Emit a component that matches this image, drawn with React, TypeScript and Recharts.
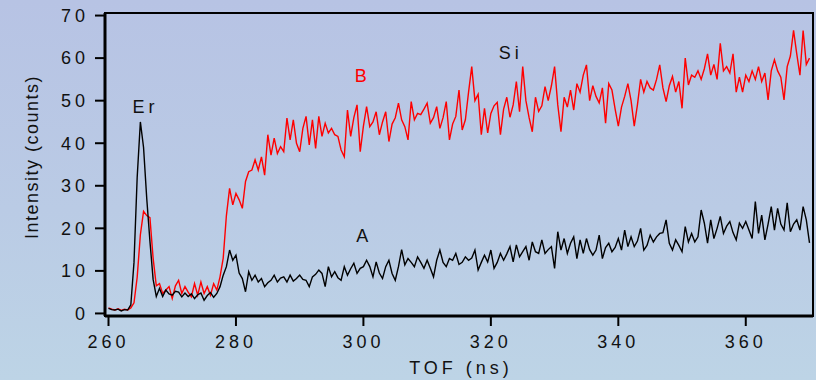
import React from 'react';
import {
  LineChart,
  Line,
  XAxis,
  YAxis,
  Label,
  ReferenceArea,
  ReferenceDot,
} from 'recharts';

// TOF spectra, one reading every 0.5 ns from 260 ns to 370 ns
const T0 = 260;
const STEP = 0.5;

// A (black): counts per 0.5 ns, one row = 10 ns
const seriesA = [
  1.2, 0.9, 0.8, 1.0, 0.6, 0.9, 0.8, 2.0, 12.0, 32.0, 45.0, 39.0, 27.0, 17.0, 8.0, 4.0, 5.9, 4.0, 5.5, 4.6,
  4.3, 5.2, 5.0, 3.9, 4.8, 4.0, 4.6, 3.5, 4.4, 4.8, 3.1, 4.2, 4.9, 3.8, 4.7, 6.3, 9.0, 11.0, 14.9, 12.5,
  13.7, 9.5, 8.2, 5.1, 9.8, 7.8, 9.0, 7.4, 8.2, 6.3, 7.2, 7.8, 9.0, 7.4, 8.3, 8.6, 7.4, 9.0, 7.6, 8.2,
  9.0, 8.0, 7.8, 6.3, 8.6, 9.2, 10.2, 9.4, 6.3, 11.0, 8.6, 9.8, 8.4, 7.8, 11.0, 9.0, 10.5, 11.8, 9.4, 10.6,
  11.0, 12.5, 11.0, 8.6, 12.1, 9.5, 8.2, 11.0, 12.5, 9.4, 7.8, 11.0, 15.0, 11.4, 12.9, 12.0, 11.0, 13.3, 12.0, 10.6,
  12.5, 10.6, 8.6, 12.5, 14.9, 12.0, 11.0, 12.9, 12.5, 14.1, 11.5, 12.0, 13.3, 12.5, 13.0, 14.9, 10.2, 12.0, 13.7, 12.1,
  14.9, 10.6, 12.0, 14.1, 12.5, 14.0, 15.7, 12.1, 16.1, 13.3, 14.5, 15.7, 12.5, 16.8, 14.5, 14.1, 17.3, 14.1, 15.0, 15.7,
  10.6, 19.2, 14.9, 17.6, 14.1, 16.5, 18.0, 12.9, 17.3, 14.1, 17.6, 15.0, 13.7, 14.9, 18.4, 12.9, 15.5, 16.5, 14.5, 15.5,
  17.6, 14.9, 19.6, 15.7, 18.0, 15.7, 17.0, 20.0, 14.9, 16.0, 18.4, 16.8, 18.0, 18.8, 19.0, 22.0, 16.5, 14.9, 17.3, 16.0,
  14.5, 20.4, 16.8, 18.8, 16.8, 18.0, 24.3, 21.2, 16.5, 22.0, 17.6, 20.0, 22.8, 18.8, 20.5, 21.6, 19.0, 17.3, 21.2, 20.0,
  21.6, 19.6, 17.6, 26.3, 18.8, 23.1, 17.3, 21.0, 25.1, 19.6, 24.7, 21.0, 19.6, 26.0, 19.2, 21.0, 22.0, 19.6, 25.1, 22.0,
  16.6,
];

// B (red)
const seriesB = [
  1.3, 1.0, 0.8, 1.1, 0.7, 1.0, 0.8, 1.3, 2.5, 8.5, 18.5, 24.0, 23.0, 22.5, 13.0, 6.5, 7.0, 4.7, 5.5, 6.3,
  3.5, 6.5, 7.8, 4.7, 6.3, 5.0, 3.9, 7.0, 4.3, 7.4, 4.7, 6.3, 4.3, 7.0, 5.5, 8.6, 13.0, 23.0, 29.4, 25.5,
  28.2, 26.7, 24.7, 31.0, 33.3, 33.7, 36.1, 33.7, 36.8, 32.5, 42.0, 37.2, 41.2, 37.6, 39.2, 38.0, 45.9, 40.8, 45.5, 40.0,
  38.0, 43.5, 46.3, 39.6, 45.5, 38.8, 46.3, 41.6, 44.7, 42.4, 43.5, 42.0, 41.6, 38.4, 36.8, 47.8, 41.6, 46.0, 49.0, 38.0,
  44.0, 48.6, 43.9, 45.0, 47.4, 42.0, 45.0, 47.4, 40.4, 44.5, 46.0, 49.4, 45.5, 43.9, 40.8, 49.8, 45.5, 47.0, 46.7, 48.0,
  49.4, 44.7, 46.0, 48.6, 43.5, 46.0, 49.8, 40.8, 44.5, 46.3, 52.5, 43.1, 45.5, 52.0, 58.0, 50.0, 51.5, 42.0, 48.2, 42.4,
  47.0, 48.8, 49.6, 42.0, 48.0, 50.8, 46.1, 49.0, 54.5, 47.4, 58.0, 50.0, 46.0, 42.7, 50.8, 47.5, 48.8, 53.3, 50.0, 53.5,
  58.0, 49.0, 42.7, 50.8, 48.5, 52.5, 47.8, 54.0, 52.0, 56.0, 58.4, 50.0, 53.5, 51.0, 49.5, 53.0, 44.7, 54.0, 52.5, 48.0,
  44.0, 48.5, 51.0, 54.0, 50.0, 44.0, 49.0, 55.0, 52.0, 54.5, 53.0, 52.5, 55.0, 58.4, 53.0, 49.8, 53.5, 55.7, 52.0, 54.5,
  48.2, 60.0, 53.7, 56.0, 55.5, 57.0, 55.0, 57.5, 61.0, 56.0, 58.5, 55.0, 63.5, 57.0, 58.0, 56.5, 61.0, 52.0, 55.5, 52.0,
  56.0, 54.5, 57.0, 55.0, 58.0, 54.5, 56.5, 50.2, 57.0, 59.6, 57.0, 55.5, 50.2, 58.0, 60.5, 66.5, 61.0, 56.0, 66.5, 58.5,
  60.0,
];

const xTicks = [260, 280, 300, 320, 340, 360];
const yTicks = [0, 10, 20, 30, 40, 50, 60, 70];

// peak / curve labels: [t, counts, text, colour]
const notes: [number, number, string, string][] = [
  [265.5, 47.2, 'Er', '#111'],
  [299.6, 54.5, 'B', '#ff0000'],
  [322.8, 59.8, 'Si', '#111'],
  [299.8, 16.8, 'A', '#111'],
];

const XMIN = 259.45;
const XMAX = 370.55;
const YMIN = -0.6;
const YMAX = 70.6;

const FONT = '"Liberation Sans", Arial, sans-serif';

const data = seriesA.map((a, i) => ({ t: T0 + i * STEP, A: a, B: seriesB[i] }));

const XTitle = (props: any) => {
  const { viewBox } = props;
  return (
    <text
      x={viewBox.x + viewBox.width / 2 + 2}
      y={viewBox.y + 58}
      textAnchor="middle"
      fontFamily={FONT}
      fontSize={18}
      letterSpacing={4}
      fill="#111"
    >
      TOF (ns)
    </text>
  );
};

const YTitle = (props: any) => {
  const { viewBox } = props;
  const x = viewBox.x - 13;
  const y = 157;
  return (
    <text
      x={x}
      y={y}
      transform={`rotate(-90, ${x}, ${y})`}
      textAnchor="middle"
      dominantBaseline="central"
      fontFamily={FONT}
      fontSize={18}
      letterSpacing={1.5}
      fill="#111"
    >
      Intensity (counts)
    </text>
  );
};

const noteLabel = (text: string, color: string) => (props: any) => {
  const { viewBox } = props;
  return (
    <text
      x={viewBox.x + 2}
      y={viewBox.y}
      textAnchor="middle"
      fontFamily={FONT}
      fontSize={18}
      letterSpacing={4}
      fill={color}
    >
      {text}
    </text>
  );
};

export default function App() {
  const tickStyle = { fill: '#111', fontSize: 18, letterSpacing: 4, fontFamily: FONT };
  return (
    <div
      style={{
        position: 'absolute',
        left: 0,
        top: 0,
        width: 816,
        height: 380,
        background: 'linear-gradient(180deg, #b7c3e4 0%, #bacbe5 55%, #bdd4e6 100%)',
      }}
    >
      <LineChart
        width={816}
        height={380}
        data={data}
        margin={{ top: 13, right: 3, bottom: 24, left: 45 }}
      >
        <XAxis
          dataKey="t"
          type="number"
          domain={[XMIN, XMAX]}
          ticks={xTicks}
          allowDataOverflow
          height={40}
          tickSize={10}
          tickMargin={9}
          tick={tickStyle}
          tickLine={{ stroke: '#000', strokeWidth: 2 }}
          axisLine={{ stroke: '#000', strokeWidth: 3 }}
          label={<Label content={XTitle} />}
        />
        <YAxis
          type="number"
          domain={[YMIN, YMAX]}
          ticks={yTicks}
          allowDataOverflow
          width={60}
          tickSize={10}
          tickMargin={6}
          tick={tickStyle}
          tickLine={{ stroke: '#000', strokeWidth: 2 }}
          axisLine={{ stroke: '#000', strokeWidth: 3 }}
          label={<Label content={YTitle} />}
        />
        <ReferenceArea
          x1={XMIN}
          x2={XMAX}
          y1={YMIN}
          y2={YMAX}
          fill="none"
          stroke="#000"
          strokeWidth={2}
        />
        <Line
          type="linear"
          dataKey="B"
          stroke="#ff0000"
          strokeWidth={1.4}
          dot={false}
          isAnimationActive={false}
        />
        <Line
          type="linear"
          dataKey="A"
          stroke="#000"
          strokeWidth={1.4}
          dot={false}
          isAnimationActive={false}
        />
        {notes.map(([t, v, text, color]) => (
          <ReferenceDot
            key={text}
            x={t}
            y={v}
            r={0}
            fill="none"
            stroke="none"
            label={<Label content={noteLabel(text, color)} />}
          />
        ))}
      </LineChart>
    </div>
  );
}
